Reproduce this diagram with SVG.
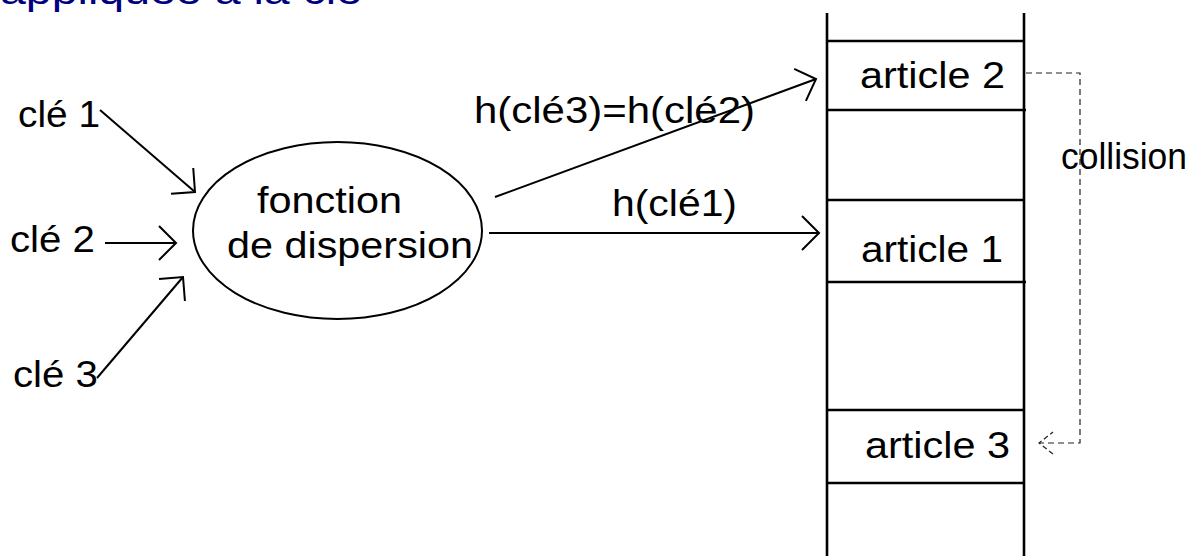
<svg xmlns="http://www.w3.org/2000/svg" width="1196" height="556" viewBox="0 0 1196 556">
  <style>
    .t { font-family: "Liberation Sans", Arial, sans-serif; font-size: 36px; fill: #000; }
    .title { font-family: "Liberation Sans", Arial, sans-serif; font-size: 38px; fill: #000080; }
    .tbl { stroke: #000; stroke-width: 2.6; fill: none; }
    .conn { stroke: #000; stroke-width: 2; fill: none; }
    .dash { stroke: #222; stroke-width: 1.2; fill: none; stroke-dasharray: 6 4; }
  </style>
  <defs>
    <marker id="arr" markerUnits="userSpaceOnUse" viewBox="-20 -20 22 40" refX="0" refY="0" markerWidth="22" markerHeight="40" orient="auto" overflow="visible">
      <path d="M-17,-17 L0,0 L-17,17" fill="none" stroke="#000" stroke-width="2"/>
    </marker>
    <marker id="darr" markerUnits="userSpaceOnUse" viewBox="-16 -13 18 26" refX="0" refY="0" markerWidth="18" markerHeight="26" orient="auto" overflow="visible">
      <path d="M-14,-11 L0,0 L-14,11" fill="none" stroke="#222" stroke-width="1.2" stroke-dasharray="5 3"/>
    </marker>
  </defs>

  <text class="title" x="0" y="4" textLength="362" lengthAdjust="spacingAndGlyphs">appliquée à la clé</text>

  <g id="table">
    <line class="tbl" x1="827" y1="13" x2="827" y2="556"/>
    <line class="tbl" x1="1024" y1="13" x2="1024" y2="556"/>
    <line class="tbl" x1="827" y1="41" x2="1024" y2="41"/>
    <line class="tbl" x1="827" y1="110" x2="1026" y2="110"/>
    <line class="tbl" x1="827" y1="200" x2="1024" y2="200"/>
    <line class="tbl" x1="827" y1="282" x2="1026" y2="282"/>
    <line class="tbl" x1="827" y1="410" x2="1024" y2="410"/>
    <line class="tbl" x1="827" y1="483" x2="1024" y2="483"/>
  </g>
  <g id="article2"><text class="t" x="860" y="88" textLength="145" lengthAdjust="spacingAndGlyphs">article 2</text></g>
  <g id="article1"><text class="t" x="861" y="262" textLength="142" lengthAdjust="spacingAndGlyphs">article 1</text></g>
  <g id="article3"><text class="t" x="865" y="458" textLength="145" lengthAdjust="spacingAndGlyphs">article 3</text></g>

  <g id="cle1"><text class="t" x="18" y="127" textLength="82" lengthAdjust="spacingAndGlyphs">clé 1</text></g>
  <g id="cle2"><text class="t" x="10" y="252" textLength="85" lengthAdjust="spacingAndGlyphs">clé 2</text></g>
  <g id="cle3"><text class="t" x="13" y="387" textLength="85" lengthAdjust="spacingAndGlyphs">clé 3</text></g>

  <g id="fonction">
    <ellipse cx="337.5" cy="230.5" rx="144.5" ry="88.5" fill="none" stroke="#000" stroke-width="2"/>
    <text class="t" x="257" y="213" textLength="145" lengthAdjust="spacingAndGlyphs">fonction</text>
    <text class="t" x="227" y="258" textLength="246" lengthAdjust="spacingAndGlyphs">de dispersion</text>
  </g>

  <g id="connectors">
    <line class="conn" x1="100" y1="110" x2="195" y2="192" marker-end="url(#arr)"/>
    <line class="conn" x1="105" y1="243" x2="176" y2="243" marker-end="url(#arr)"/>
    <line class="conn" x1="97" y1="378" x2="183" y2="277" marker-end="url(#arr)"/>
    <line class="conn" x1="495" y1="197" x2="816" y2="79" marker-end="url(#arr)"/>
    <line class="conn" x1="489" y1="233" x2="819" y2="233" marker-end="url(#arr)"/>
    <polyline class="dash" points="1026,73 1080,73 1080,443 1039,443" marker-end="url(#darr)"/>
    <text class="t" x="474" y="123" textLength="281" lengthAdjust="spacingAndGlyphs">h(clé3)=h(clé2)</text>
    <text class="t" x="612" y="216" textLength="125" lengthAdjust="spacingAndGlyphs">h(clé1)</text>
    <text class="t" x="1061" y="169" textLength="126" lengthAdjust="spacingAndGlyphs">collision</text>
  </g>
</svg>
